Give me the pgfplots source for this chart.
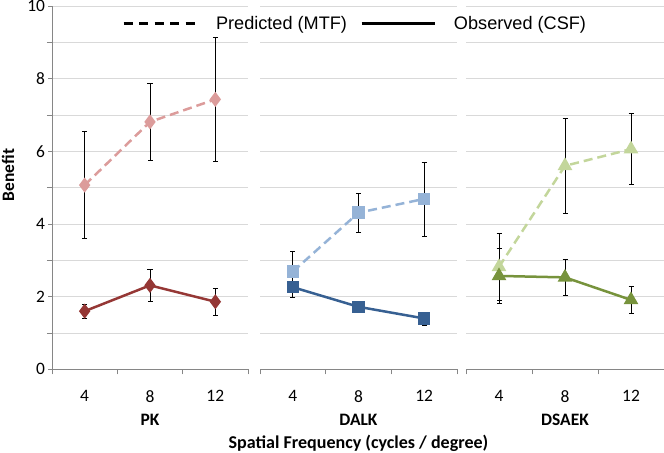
\documentclass[border=0pt]{standalone}
\usepackage{fontspec}
\setmainfont{Carlito}
\newfontfamily\legendfont{Liberation Sans}
\usepackage{pgfplots}
\pgfplotsset{compat=1.18}
\definecolor{pkD}{HTML}{953735}
\definecolor{pkL}{HTML}{DC9C9B}
\definecolor{daD}{HTML}{376092}
\definecolor{daL}{HTML}{95B3D7}
\definecolor{dsD}{HTML}{77933C}
\definecolor{dsL}{HTML}{C3D69B}
\definecolor{axisgray}{HTML}{868686}
\definecolor{gridgray}{HTML}{D9D9D9}
\newcommand{\lowr}[1]{\raisebox{-14bp}[\height][\depth]{#1}}
\tikzset{grp/.style={font=\bfseries\fontsize{17.5}{20}\selectfont, anchor=base}}
\pgfplotsset{
  panel/.style={
    scale only axis, height=363.3bp,
    xmin=0, xmax=3, ymin=0, ymax=10,
    axis x line*=bottom, axis y line*=left,
    axis line style={draw=axisgray, line width=0.8bp},
    xtick={0.5,1.5,2.5}, xticklabels={\lowr{4},\lowr{8},\lowr{12}},
    minor xtick={0,1,2,3},
    tick align=outside, major tick length=3.5bp, minor tick length=5bp,
    major x tick style={draw=none},
    ytick={0,2,...,10}, minor ytick={1,3,5,7,9},
    ymajorgrids, yminorgrids,
    major grid style={draw=gridgray, line width=0.8bp},
    minor grid style={draw=gridgray, line width=0.8bp},
    tick style={draw=axisgray, line width=0.8bp},
    ticklabel style={font=\fontsize{17.5}{20}\selectfont},
    /pgf/number format/assume math mode=true,
    clip=false,
    error bars/y dir=both, error bars/y explicit,
    error bars/error bar style={black, line width=0.7bp, solid},
    error bars/error mark options={rotate=90, mark size=2.5bp, black, line width=0.7bp, solid},
  },
  noy/.style={
    yticklabels={}, y axis line style={draw=none},
    ytick style={draw=none}, minor y tick style={draw=none},
  },
}
\begin{document}
\begin{tikzpicture}
\useasboundingbox (0,0) rectangle (664bp,453bp);
% ---------- PK ----------
\begin{axis}[panel, at={(52bp,83.7bp)}, anchor=south west, width=196bp,
  ylabel={Benefit},
  ylabel style={font=\bfseries\fontsize{17.5}{20}\selectfont, at={(axis description cs:-0.2245,0.535)}, anchor=center},
  legend columns=2,
  legend style={at={(axis description cs:1.546,0.9505)}, anchor=center, draw=none, fill=none,
    font=\legendfont\fontsize{18.2}{22}\selectfont,
    /tikz/every odd column/.append style={column sep=16bp},
    /tikz/every even column/.append style={column sep=11bp}},
  legend image code/.code={\draw[#1] (0bp,0bp) -- (73bp,0bp);},
]
\addlegendimage{black, line width=3bp, dash pattern=on 9bp off 6.5bp}
\addlegendentry{Predicted (MTF)}
\addlegendimage{black, line width=3bp}
\addlegendentry{Observed (CSF)}
\addplot[pkL, line width=2.5bp, dash pattern=on 9bp off 5bp, mark=diamond*, mark size=5.5bp, mark options={solid, fill=pkL, draw=pkL}]
  coordinates {(0.5,5.07) +- (0,1.47) (1.5,6.81) +- (0,1.07) (2.5,7.43) +- (0,1.70)};
\addplot[pkD, line width=2.5bp, mark=diamond*, mark size=5.5bp, mark options={solid, fill=pkD, draw=pkD}]
  coordinates {(0.5,1.60) +- (0,0.19) (1.5,2.31) +- (0,0.43) (2.5,1.86) +- (0,0.38)};
\node[grp] at (axis description cs:0.5,0) [yshift=-55.7bp] {PK};
\end{axis}
% ---------- DALK ----------
\begin{axis}[panel, noy, at={(260bp,83.7bp)}, anchor=south west, width=197bp]
\addplot[daL, line width=2.5bp, dash pattern=on 9bp off 5bp, mark=square*, mark size=5bp, mark options={solid, fill=daL, draw=daL}]
  coordinates {(0.5,2.69) +- (0,0.57) (1.5,4.31) +- (0,0.53) (2.5,4.69) +- (0,1.02)};
\addplot[daD, line width=2.5bp, mark=square*, mark size=5bp, mark options={solid, fill=daD, draw=daD}]
  coordinates {(0.5,2.26) +- (0,0.29) (1.5,1.72) +- (0,0.08) (2.5,1.40) +- (0,0.18)};
\node[grp] at (axis description cs:0.5,0) [yshift=-55.7bp] {DALK};
\node[grp, font=\bfseries\fontsize{18.1}{20}\selectfont] at (axis description cs:0.5,0) [yshift=-78.7bp] {Spatial Frequency (cycles / degree)};
\end{axis}
% ---------- DSAEK ----------
\begin{axis}[panel, noy, at={(466bp,83.7bp)}, anchor=south west, width=198bp]
\addplot[dsL, line width=2.5bp, dash pattern=on 9bp off 5bp, mark=triangle*, mark size=6bp, mark options={solid, fill=dsL, draw=dsL}]
  coordinates {(0.5,2.82) +- (0,0.92) (1.5,5.60) +- (0,1.32) (2.5,6.06) +- (0,0.98)};
\addplot[dsD, line width=2.5bp, mark=triangle*, mark size=6bp, mark options={solid, fill=dsD, draw=dsD}]
  coordinates {(0.5,2.57) +- (0,0.75) (1.5,2.53) +- (0,0.49) (2.5,1.91) +- (0,0.37)};
\node[grp] at (axis description cs:0.5,0) [yshift=-55.7bp] {DSAEK};
\end{axis}
\end{tikzpicture}
\end{document}
